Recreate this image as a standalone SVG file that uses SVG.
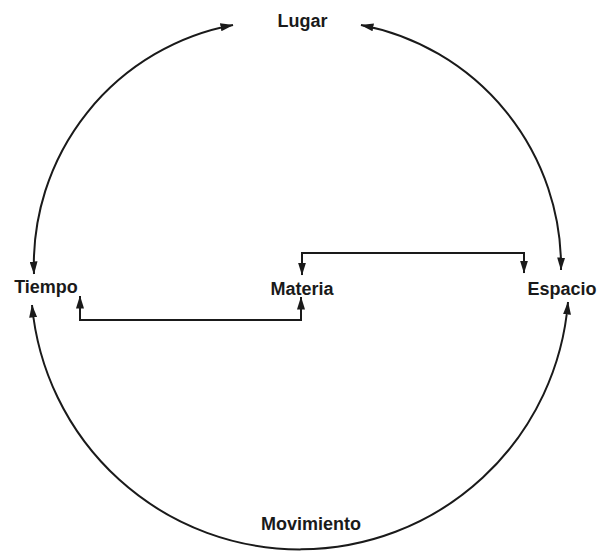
<svg xmlns="http://www.w3.org/2000/svg" width="599" height="554" viewBox="0 0 599 554">
  <style>
    .lbl { font-family: "Liberation Sans", Arial, Helvetica, sans-serif; font-size: 18px; font-weight: bold; fill: #1a1a1a; text-anchor: middle; }
    .con { fill: none; stroke: #1a1a1a; stroke-width: 2; }
  </style>
  <defs>
    <marker id="arr" viewBox="0 0 13 8" refX="12.5" refY="4" markerWidth="13" markerHeight="8" markerUnits="userSpaceOnUse" orient="auto-start-reverse">
      <path d="M0,0 L13,4 L0,8 Z" fill="#1a1a1a"/>
    </marker>
  </defs>
  <rect width="599" height="554" fill="#ffffff"/>
  <g id="connectors">
    <path class="con" d="M34,274 A244,244 0 0 1 233,25" marker-start="url(#arr)" marker-end="url(#arr)"/>
    <path class="con" d="M361,25 A246,246 0 0 1 561,270" marker-start="url(#arr)" marker-end="url(#arr)"/>
    <path class="con" d="M32,305 A269,269 0 0 0 568,302" marker-start="url(#arr)" marker-end="url(#arr)"/>
    <path class="con" d="M80,296 V320 H301 V297" marker-start="url(#arr)" marker-end="url(#arr)"/>
    <path class="con" d="M302,275 V253 H524 V273" marker-start="url(#arr)" marker-end="url(#arr)"/>
  </g>
  <g id="lugar"><text class="lbl" x="302.5" y="27">Lugar</text></g>
  <g id="tiempo"><text class="lbl" x="46" y="293">Tiempo</text></g>
  <g id="materia"><text class="lbl" x="302" y="295">Materia</text></g>
  <g id="espacio"><text class="lbl" x="562" y="295">Espacio</text></g>
  <g id="movimiento"><text class="lbl" x="311" y="530">Movimiento</text></g>
</svg>
